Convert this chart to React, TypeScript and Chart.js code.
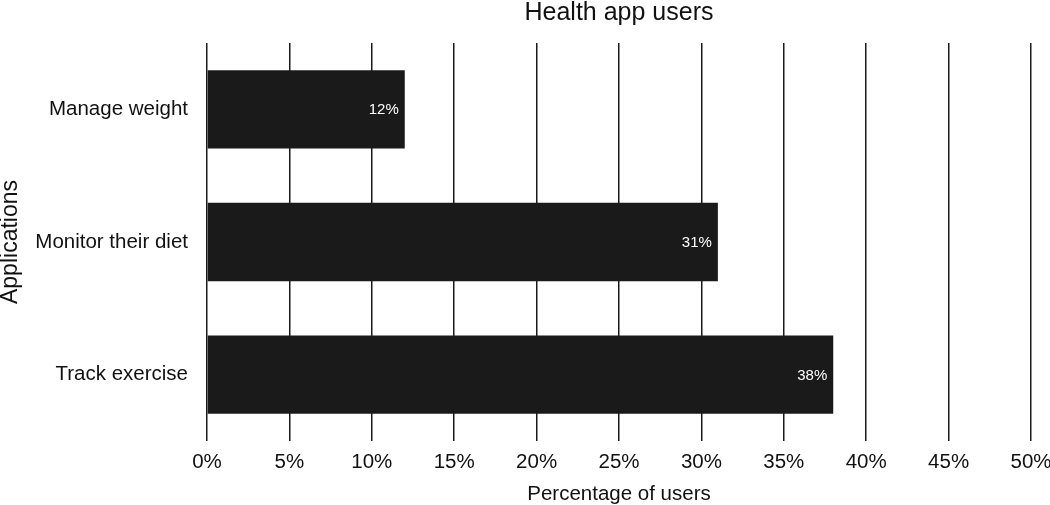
import React, { useEffect, useRef } from "react";
import { Chart, registerables } from "chart.js";

Chart.register(...registerables);

const categories = ["Manage weight", "Monitor their diet", "Track exercise"];
const values = [12, 31, 38];
const tickValues = [0, 5, 10, 15, 20, 25, 30, 35, 40, 45, 50];
const chartTitle = "Health app users";
const xTitle = "Percentage of users";
const yTitle = "Applications";

const FONT = "'Liberation Sans', Arial, Helvetica, sans-serif";

const textPlugin = {
  id: "textPlugin",
  afterDatasetsDraw(chart: any) {
    const ctx = chart.ctx;
    ctx.save();
    const meta = chart.getDatasetMeta(0);
    ctx.font = `15px ${FONT}`;
    ctx.fillStyle = "#ffffff";
    ctx.textAlign = "right";
    ctx.textBaseline = "middle";
    meta.data.forEach((bar: any, i: number) => {
      ctx.fillText(`${values[i]}%`, bar.x - 6, bar.y + 1);
    });
    ctx.restore();
  },
  afterDraw(chart: any) {
    const ctx = chart.ctx;
    const area = chart.chartArea;
    const cx = (area.left + area.right) / 2;
    const cy = (area.top + area.bottom) / 2;
    ctx.save();
    ctx.fillStyle = "#111111";
    ctx.textAlign = "center";
    ctx.textBaseline = "alphabetic";
    ctx.font = `25px ${FONT}`;
    ctx.fillText(chartTitle, cx, 20);
    ctx.font = `20.5px ${FONT}`;
    ctx.fillText(xTitle, cx, 500);
    ctx.translate(17, cy);
    ctx.rotate(-Math.PI / 2);
    ctx.font = `23px ${FONT}`;
    ctx.fillText(yTitle, 0, 0);
    ctx.restore();
  },
};

export default function App() {
  const ref = useRef<HTMLCanvasElement | null>(null);
  useEffect(() => {
    if (!ref.current) return;
    const chart = new Chart(ref.current, {
      type: "bar",
      data: {
        labels: categories,
        datasets: [
          {
            data: values,
            backgroundColor: "#1a1a1a",
            borderWidth: 0,
            categoryPercentage: 1,
            barPercentage: 0.59,
          },
        ],
      },
      options: {
        indexAxis: "y",
        responsive: false,
        animation: false,
        layout: { padding: { top: 43, right: 19, left: 0, bottom: 0 } },
        plugins: {
          legend: { display: false },
          title: { display: false },
          tooltip: { enabled: false },
        },
        scales: {
          x: {
            min: 0,
            max: 50,
            afterBuildTicks(scale: any) {
              scale.ticks = tickValues.map((v) => ({ value: v }));
            },
            afterFit(scale: any) {
              scale.height = 64;
              scale.paddingRight = 0;
              scale.paddingLeft = 0;
            },
            grid: {
              color: "#1a1a1a",
              lineWidth: 1.5,
              drawTicks: false,
            },
            border: { display: false },
            ticks: {
              padding: 9,
              color: "#111111",
              font: { family: FONT, size: 20.5 },
              callback: (v: any) => `${v}%`,
              maxRotation: 0,
              autoSkip: false,
            },
          },
          y: {
            afterFit(scale: any) {
              scale.width = 207;
              scale.paddingTop = 0;
              scale.paddingBottom = 0;
            },
            grid: { display: false, drawTicks: false },
            border: { display: false },
            ticks: {
              padding: 19,
              color: "#111111",
              font: { family: FONT, size: 20.5 },
            },
          },
        },
      },
      plugins: [textPlugin],
    });
    return () => chart.destroy();
  }, []);
  return (
    <div style={{ position: "fixed", left: 0, top: 0, width: 1050, height: 505, background: "#fff" }}>
      <canvas ref={ref} width={1050} height={505} />
    </div>
  );
}
